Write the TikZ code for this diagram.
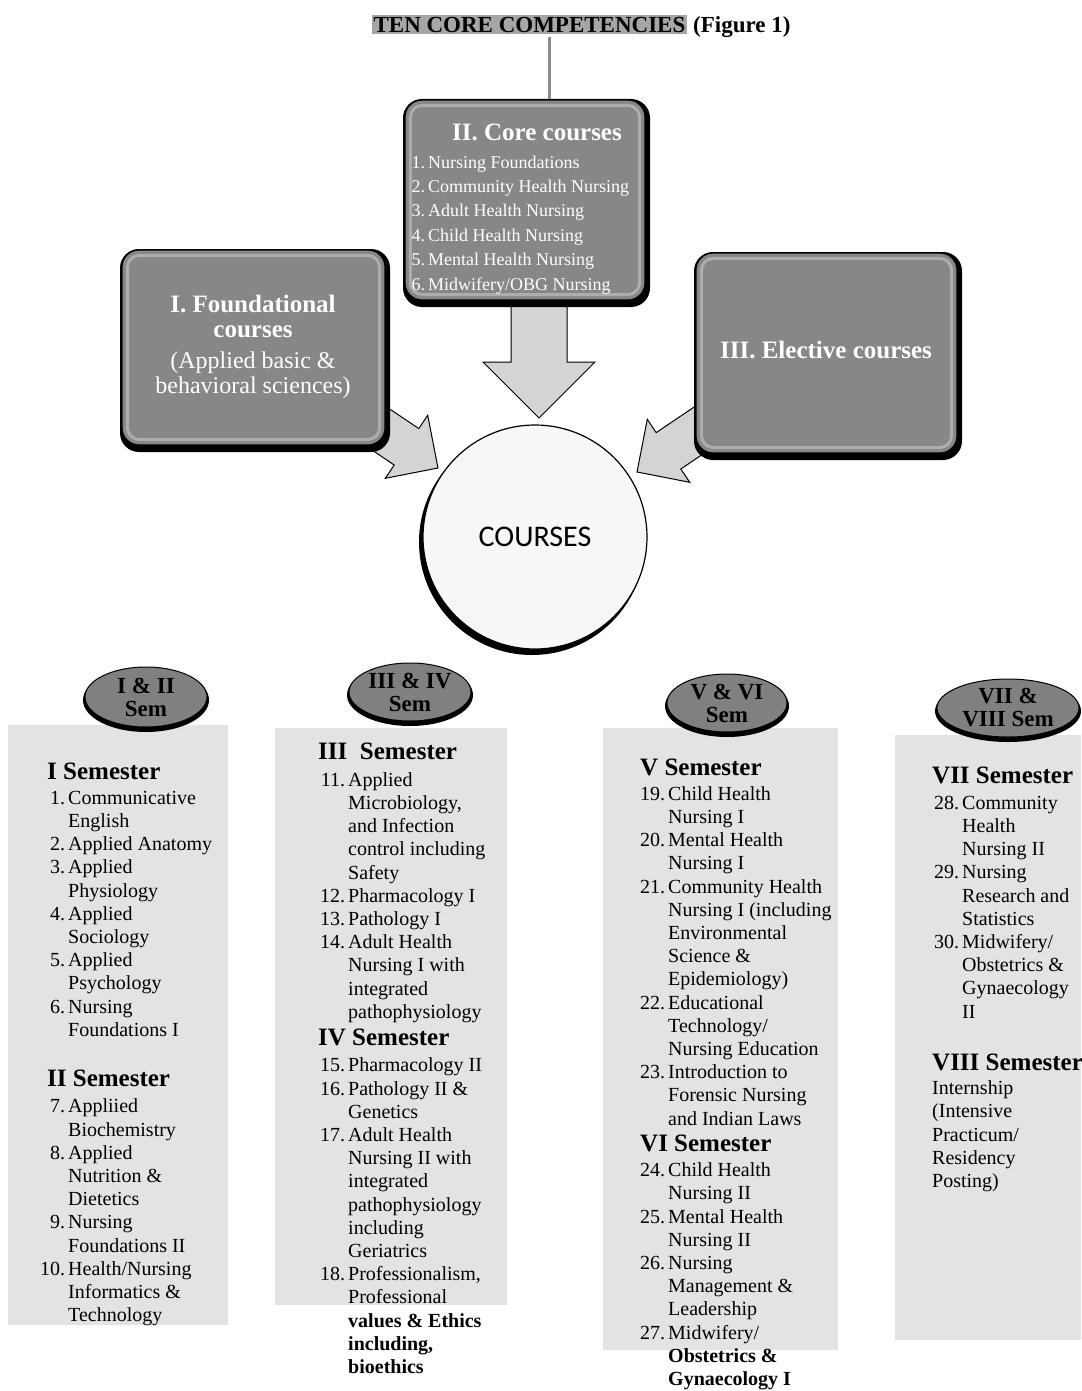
\documentclass[tikz,border=0pt]{standalone}
\usepackage{fontspec}
\setmainfont{Liberation Serif}
\newfontfamily\calibfont{Carlito}
\usetikzlibrary{shapes.geometric,calc}
\newlength\cnw
\newcommand\shead[1]{{\fontsize{25}{23.2}\selectfont\bfseries #1}}
\newcommand\sitem[2]{\makebox[\cnw][r]{#1.}\hspace{3pt}#2}
\newcommand\scont[1]{\hspace*{\dimexpr\cnw+3pt\relax}#1}
\begin{document}
\begin{tikzpicture}[x=1pt,y=-1pt,
  panel/.style={fill=black!11,draw=none},
  catshadow/.style={fill=black,rounded corners=19pt},
  catbox/.style={rectangle,rounded corners=17pt,fill=black!47,draw=black,line width=1.2pt,inner sep=0pt},
  bevel/.style={draw=black!32,line width=3pt,rounded corners=12pt},
  wtitle/.style={text=white,font=\fontsize{25}{25}\selectfont\bfseries,align=center,inner sep=0pt},
  wtext/.style={text=white,font=\fontsize{24}{25}\selectfont,align=center,inner sep=0pt},
  corelist/.style={text=white,font=\fontsize{18}{24.4}\selectfont,inner sep=0pt,anchor=base west},
  blockarrow/.style={fill=black!17,draw=black,line width=1pt,line join=miter},
  semoval/.style={ellipse,fill=black!50,draw=black,line width=1pt,inner sep=0pt,align=center,font=\fontsize{23}{23}\selectfont\bfseries},
  coltext/.style={inner sep=0pt,anchor=base west,font=\fontsize{20}{23.2}\selectfont},
  titleline/.style={draw=black!45,line width=3pt}
]
\useasboundingbox (0,0) rectangle (1081,1391);

% title
\node[inner sep=0pt,font=\fontsize{23}{23}\selectfont\bfseries] (title) at (581,26)
  {{\setlength\fboxsep{2pt}\colorbox{black!35}{TEN CORE COMPETENCIES}} (Figure 1)};

% arrows (behind boxes)
\draw[blockarrow] (352.5,383.9) -- (418.8,428.6) -- (427.7,415.3) -- (438,468)
  -- (385.3,478.3) -- (394.2,465.0) -- (327.9,420.3) -- cycle;
\draw[blockarrow] (722.5,387.9) -- (656.2,432.6) -- (647.3,419.3) -- (637,472)
  -- (689.7,482.3) -- (680.8,469.0) -- (747.1,424.3) -- cycle;
\draw[blockarrow] (511,290) -- (511,362) -- (483,362) -- (539,418) -- (595,362)
  -- (567,362) -- (567,290) -- cycle;

% category boxes
\fill[catshadow] (403,99) rectangle (650,307);
\node[catbox,minimum width=240,minimum height=200] (core) at (525,200) {};
\draw[bevel] ($(core.north west)+(6,6)$) rectangle ($(core.south east)+(-6,-6)$);

\fill[catshadow] (120,249) rectangle (390,452);
\node[catbox,minimum width=263,minimum height=195] (found) at (253.5,347.5) {};
\draw[bevel] ($(found.north west)+(6,6)$) rectangle ($(found.south east)+(-6,-6)$);

\fill[catshadow] (694,252) rectangle (962,460);
\node[catbox,minimum width=261,minimum height=200] (elect) at (826.5,353) {};
\draw[bevel] ($(elect.north west)+(6,6)$) rectangle ($(elect.south east)+(-6,-6)$);

% title connector
\coordinate (lx) at (549,0);
\draw[titleline] (title.south -| lx) -- (core.north -| lx);

% box texts
\node[wtitle] (coret) at (537,132) {II. Core courses};
\node[corelist] (corel) at (410,168) {\setlength\cnw{15pt}\begin{tabular}[t]{@{}l@{}}
\sitem{1}{Nursing Foundations}\\
\sitem{2}{Community Health Nursing}\\
\sitem{3}{Adult Health Nursing}\\
\sitem{4}{Child Health Nursing}\\
\sitem{5}{Mental Health Nursing}\\
\sitem{6}{Midwifery/OBG Nursing}
\end{tabular}};
\node[wtitle] (foundt) at (253,316) {I. Foundational\\courses};
\node[wtext] (foundx) at (253,375) {(Applied basic \&\\behavioral sciences)};
\node[wtitle] (electt) at (826,350) {III. Elective courses};

% central circle
\fill[black] (532,542) circle (113);
\node[circle,minimum size=224,fill=black!3,draw=black,line width=1.2pt,inner sep=0pt,
  font=\calibfont\fontsize{30}{30}\selectfont] (courses) at (535,537) {COURSES};

% panels
\fill[panel] (8,725) rectangle (228,1325);
\fill[panel] (275,728) rectangle (507,1305);
\fill[panel] (603,728) rectangle (838,1350);
\fill[panel] (895,735) rectangle (1081,1340);

% semester ovals
\fill[black] (146,700) ellipse [x radius=63,y radius=32];
\node[semoval,minimum width=122,minimum height=60] (o1) at (146,697) {I \& II\\Sem};
\fill[black] (410,695) ellipse [x radius=63,y radius=31];
\node[semoval,minimum width=122,minimum height=58] (o2) at (410,692) {III \& IV\\Sem};
\fill[black] (727,706) ellipse [x radius=62,y radius=31];
\node[semoval,minimum width=120,minimum height=58] (o3) at (727,703) {V \& VI\\Sem};
\fill[black] (1008,711) ellipse [x radius=73,y radius=31];
\node[semoval,minimum width=142,minimum height=58] (o4) at (1008,708) {VII \&\\VIII Sem};

% column 1
\node[coltext] (c1) at (47,779) {\setlength\cnw{18pt}\begin{tabular}[t]{@{}l@{}}
\shead{I Semester}\\[2pt]
\sitem{1}{Communicative}\\
\scont{English}\\
\sitem{2}{Applied Anatomy}\\
\sitem{3}{Applied}\\
\scont{Physiology}\\
\sitem{4}{Applied}\\
\scont{Sociology}\\
\sitem{5}{Applied}\\
\scont{Psychology}\\
\sitem{6}{Nursing}\\
\scont{Foundations I}\\[27pt]
\shead{II Semester}\\[3pt]
\sitem{7}{Appliied}\\
\scont{Biochemistry}\\
\sitem{8}{Applied}\\
\scont{Nutrition \&}\\
\scont{Dietetics}\\
\sitem{9}{Nursing}\\
\scont{Foundations II}\\
\sitem{10}{Health/Nursing}\\
\scont{Informatics \&}\\
\scont{Technology}
\end{tabular}};

% column 2
\node[coltext] (c2) at (318,759) {\setlength\cnw{27pt}\begin{tabular}[t]{@{}l@{}}
\shead{III\ \ Semester}\\[4pt]
\sitem{11}{Applied}\\
\scont{Microbiology,}\\
\scont{and Infection}\\
\scont{control including}\\
\scont{Safety}\\
\sitem{12}{Pharmacology I}\\
\sitem{13}{Pathology I}\\
\sitem{14}{Adult Health}\\
\scont{Nursing I with}\\
\scont{integrated}\\
\scont{pathophysiology}\\[4pt]
\shead{IV Semester}\\[3pt]
\sitem{15}{Pharmacology II}\\
\sitem{16}{Pathology II \&}\\
\scont{Genetics}\\
\sitem{17}{Adult Health}\\
\scont{Nursing II with}\\
\scont{integrated}\\
\scont{pathophysiology}\\
\scont{including}\\
\scont{Geriatrics}\\
\sitem{18}{Professionalism,}\\
\scont{Professional}\\
\scont{\textbf{values \& Ethics}}\\
\scont{\textbf{including,}}\\
\scont{\textbf{bioethics}}
\end{tabular}};

% column 3
\node[coltext] (c3) at (640,775) {\setlength\cnw{25pt}\begin{tabular}[t]{@{}l@{}}
\shead{V Semester}\\[2pt]
\sitem{19}{Child Health}\\
\scont{Nursing I}\\
\sitem{20}{Mental Health}\\
\scont{Nursing I}\\
\sitem{21}{Community Health}\\
\scont{Nursing I (including}\\
\scont{Environmental}\\
\scont{Science \&}\\
\scont{Epidemiology)}\\
\sitem{22}{Educational}\\
\scont{Technology/}\\
\scont{Nursing Education}\\
\sitem{23}{Introduction to}\\
\scont{Forensic Nursing}\\
\scont{and Indian Laws}\\[3pt]
\shead{VI Semester}\\[2pt]
\sitem{24}{Child Health}\\
\scont{Nursing II}\\
\sitem{25}{Mental Health}\\
\scont{Nursing II}\\
\sitem{26}{Nursing}\\
\scont{Management \&}\\
\scont{Leadership}\\
\sitem{27}{Midwifery/}\\
\scont{\textbf{Obstetrics \&}}\\
\scont{\textbf{Gynaecology I}}
\end{tabular}};

% column 4
\node[coltext] (c4) at (932,783) {\setlength\cnw{27pt}\begin{tabular}[t]{@{}l@{}}
\shead{VII Semester}\\[3pt]
\sitem{28}{Community}\\
\scont{Health}\\
\scont{Nursing II}\\
\sitem{29}{Nursing}\\
\scont{Research and}\\
\scont{Statistics}\\
\sitem{30}{Midwifery/}\\
\scont{Obstetrics \&}\\
\scont{Gynaecology}\\
\scont{II}\\[29pt]
\shead{VIII Semester}\\[1pt]
Internship\\
(Intensive\\
Practicum/\\
Residency\\
Posting)
\end{tabular}};
\end{tikzpicture}
\end{document}
